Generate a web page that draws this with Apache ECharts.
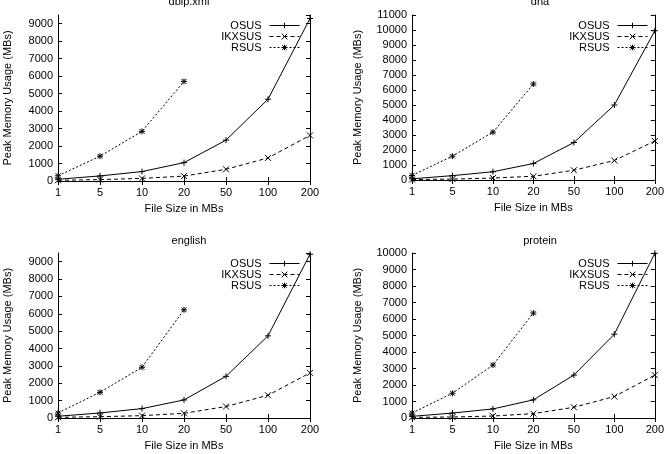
<!DOCTYPE html>
<html>
<head>
<meta charset="utf-8">
<script src="https://cdn.jsdelivr.net/npm/echarts@6/dist/echarts.min.js"></script>
<style>
  html, body { margin: 0; padding: 0; background: #fff; }
  #chart { width: 667px; height: 454px; }
</style>
</head>
<body>
<div id="chart"></div>
<script>
// file sizes on x (equally spaced categories)
var fileSizes = ["1", "5", "10", "20", "50", "100", "200"];
var seriesNames = ["OSUS", "IKXSUS", "RSUS"];
var panelTitles = ["dblp.xml", "dna", "english", "protein"];
var yMaxes = [9500, 11000, 9500, 10000];

// peak memory usage (MBs)
var dblpOsus = [100, 290, 540, 1050, 2340, 4680, 9300];
var dblpIkxsus = [40, 80, 150, 280, 670, 1320, 2610];
var dblpRsus = [300, 1420, 2840, 5700];

var dnaOsus = [80, 290, 550, 1100, 2500, 5000, 9950];
var dnaIkxsus = [30, 60, 130, 250, 650, 1300, 2600];
var dnaRsus = [300, 1590, 3190, 6400];

var englishOsus = [100, 290, 540, 1040, 2400, 4730, 9430];
var englishIkxsus = [40, 75, 135, 270, 660, 1310, 2600];
var englishRsus = [290, 1480, 2920, 6230];

var proteinOsus = [100, 300, 550, 1100, 2600, 5080, 9980];
var proteinIkxsus = [40, 60, 120, 265, 650, 1300, 2600];
var proteinRsus = [300, 1500, 3210, 6360];

var panelData = [
  [dblpOsus, dblpIkxsus, dblpRsus],
  [dnaOsus, dnaIkxsus, dnaRsus],
  [englishOsus, englishIkxsus, englishRsus],
  [proteinOsus, proteinIkxsus, proteinRsus]
];

var FONT = "Liberation Sans";
var FS = 11;

var grids = [
  { left: 58, top: 15, width: 252, height: 166 },
  { left: 412, top: 15, width: 246, height: 165 },
  { left: 58, top: 253, width: 252, height: 165 },
  { left: 412, top: 253, width: 246, height: 165 }
];

// gnuplot-ish point types
var symbols = [
  "path://M0,5L10,5M5,0L5,10",
  "path://M0,0L10,10M10,0L0,10",
  "path://M0,5L10,5M5,0L5,10M1,1L9,9M9,1L1,9"
];
var dashes = ["solid", [4, 3], [2, 2]];

var chart = echarts.init(document.getElementById("chart"));

var option = {
  animation: false,
  backgroundColor: "#fff",
  textStyle: { fontFamily: FONT, color: "#000" },
  title: [],
  legend: [],
  grid: grids,
  xAxis: [],
  yAxis: [],
  series: []
};

grids.forEach(function (g, i) {
  var cx = g.left + g.width / 2;
  option.title.push({
    text: panelTitles[i],
    left: cx,
    top: i < 2 ? -9 : 230,
    textAlign: "center",
    textStyle: { fontFamily: FONT, fontSize: FS, fontWeight: "normal", color: "#000" }
  });

  // bottom axis with labels + mirrored top axis (box border)
  option.xAxis.push({
    type: "category",
    gridIndex: i,
    data: fileSizes,
    boundaryGap: false,
    name: "File Size in MBs",
    nameLocation: "middle",
    nameGap: 22,
    nameTextStyle: { fontFamily: FONT, fontSize: FS, color: "#000" },
    axisLine: { lineStyle: { color: "#000", width: 1 } },
    axisTick: { inside: true, length: 4, lineStyle: { color: "#000" } },
    axisLabel: { fontFamily: FONT, fontSize: FS, color: "#000", margin: 6 },
    splitLine: { show: false }
  });
  option.xAxis.push({
    type: "category",
    gridIndex: i,
    data: fileSizes,
    boundaryGap: false,
    position: "top",
    axisLine: { lineStyle: { color: "#000", width: 1 } },
    axisTick: { inside: true, length: 4, lineStyle: { color: "#000" } },
    axisLabel: { show: false },
    splitLine: { show: false }
  });

  option.yAxis.push({
    type: "value",
    gridIndex: i,
    min: 0,
    max: yMaxes[i],
    interval: 1000,
    name: "Peak Memory Usage (MBs)",
    nameLocation: "middle",
    nameRotate: 90,
    nameGap: i % 2 === 0 ? 45 : 49,
    nameTextStyle: { fontFamily: FONT, fontSize: FS, color: "#000" },
    axisLine: { show: true, lineStyle: { color: "#000", width: 1 } },
    axisTick: { show: true, inside: true, length: 4, lineStyle: { color: "#000" } },
    axisLabel: {
      fontFamily: FONT, fontSize: FS, color: "#000", margin: 5,
      showMaxLabel: yMaxes[i] % 1000 === 0,
      formatter: function (v) { return String(v); }
    },
    splitLine: { show: false }
  });
  option.yAxis.push({
    type: "value",
    gridIndex: i,
    min: 0,
    max: yMaxes[i],
    interval: 1000,
    position: "right",
    axisLine: { show: true, lineStyle: { color: "#000", width: 1 } },
    axisTick: { show: true, inside: true, length: 4, lineStyle: { color: "#000" } },
    axisLabel: { show: false },
    splitLine: { show: false }
  });

  option.legend.push({
    right: 667 - (g.left + g.width) + 10,
    top: g.top + 5,
    orient: "vertical",
    align: "right",
    padding: 0,
    itemWidth: 30,
    itemHeight: 7,
    itemGap: 0,
    lineStyle: { width: 1 },
    itemStyle: { borderWidth: 1 },
    textStyle: { fontFamily: FONT, fontSize: FS, color: "#000", padding: [0, 3, 0, 0], lineHeight: 11 },
    data: seriesNames.map(function (n) { return { name: n }; })
  });

  seriesNames.forEach(function (name, k) {
    option.series.push({
      name: name,
      type: "line",
      xAxisIndex: i * 2,
      yAxisIndex: i * 2,
      data: panelData[i][k],
      symbol: symbols[k],
      symbolSize: 6,
      showAllSymbol: true,
      lineStyle: { color: "#000", width: 1, type: dashes[k] },
      itemStyle: { color: "#000", borderColor: "#000", borderWidth: 1 }
    });
  });
});

chart.setOption(option);
</script>
</body>
</html>
